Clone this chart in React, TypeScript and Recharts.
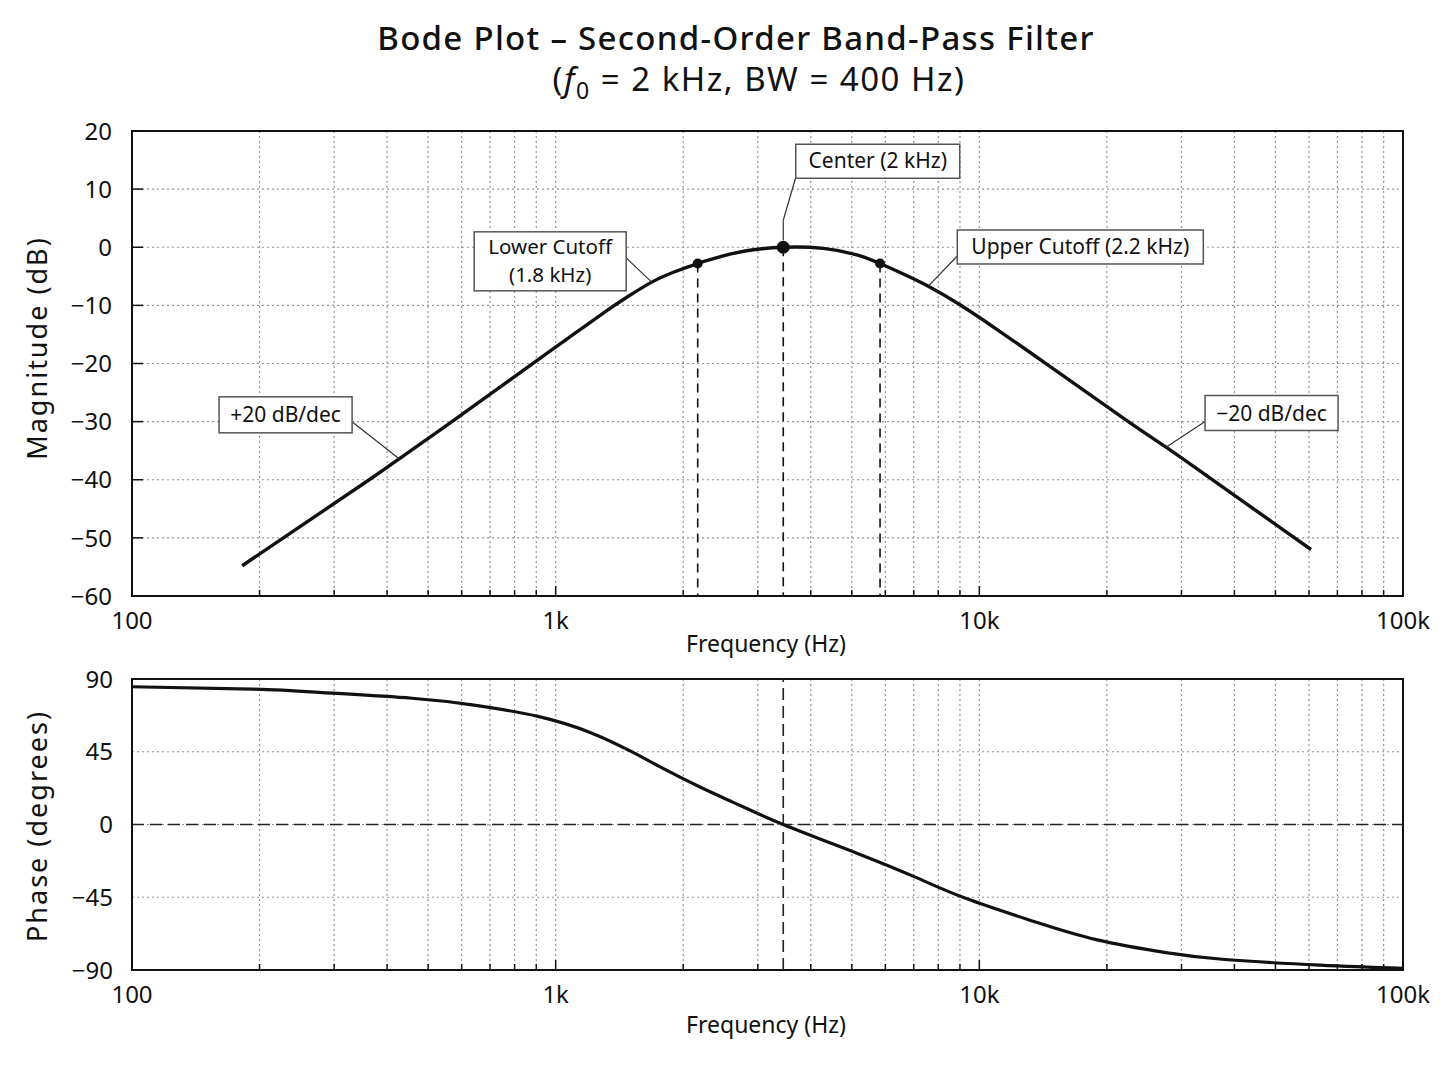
import React from 'react';
import {
  LineChart,
  Line,
  XAxis,
  YAxis,
  CartesianGrid,
  ReferenceArea,
  ReferenceDot,
  ReferenceLine,
} from 'recharts';

const FONT = '"Noto Sans", "DejaVu Sans", sans-serif';
const INK = '#111';

// magnitude response
const magFreq = [182, 363, 427, 569, 918, 1101, 1320, 1472, 1685, 1896, 2164, 2487, 2824, 3445, 4282, 5135, 5830, 6616, 7578, 9004, 11190, 14420, 22080, 27590, 34850, 60660];
const magDb = [-54.8, -40, -36.4, -30, -19.1, -15, -10.9, -8.6, -6, -4.3, -2.8, -1.5, -0.6, 0, -0.2, -1.3, -2.8, -4.6, -6.7, -9.9, -14.5, -20.1, -29.6, -34.4, -39.6, -52];

// phase response
const phaseFreq = [100, 193, 282, 458, 635, 908, 1218, 1523, 1792, 2191, 2650, 3445, 5155, 7038, 9352, 13460, 18860, 27820, 37970, 63720, 100000];
const phaseDeg = [85.2, 83.7, 81.6, 78.1, 74, 66.9, 56.5, 44.6, 34.7, 23.2, 13.2, 0, -17.9, -32.4, -46, -60, -71.2, -79.4, -83.5, -87, -89];

const freqTicks = [
  100, 200, 300, 400, 500, 600, 700, 800, 900,
  1000, 2000, 3000, 4000, 5000, 6000, 7000, 8000, 9000,
  10000, 20000, 30000, 40000, 50000, 60000, 70000, 80000, 90000,
  100000,
];
const decadeLabels: Record<number, string> = { 100: '100', 1000: '1k', 10000: '10k', 100000: '100k' };
const magTicks = [-60, -50, -40, -30, -20, -10, 0, 10, 20];
const phaseTicks = [-90, -45, 0, 45, 90];

const fLow = 2164;
const fCenter = 3445;
const fHigh = 5830;
const cutoffDb = -2.8;

const magData = magFreq.map((f, i) => ({ f, v: magDb[i] }));
const phaseData = phaseFreq.map((f, i) => ({ f, v: phaseDeg[i] }));

// callouts: anchored on the curve, box offsets in px
const callouts = [
  { f: 1685, v: -6, lines: ['Lower Cutoff', '(1.8 kHz)'], box: [-177.5, -50.3, 152, 59], lead: [-25.5, -24.3], tx: -101.5, ty: [-27.8, 0.2], fs: 20.5 },
  { f: 3445, v: 0, lines: ['Center (2 kHz)'], box: [12.5, -103, 164, 34], lead: [12.5, -70], tx: 94.5, ty: [-79], stem: true, fs: 21 },
  { f: 7578, v: -6.7, lines: ['Upper Cutoff (2.2 kHz)'], box: [29, -56.2, 246, 34], lead: [29, -30.2], tx: 152, ty: [-32.2], fs: 21 },
  { f: 427, v: -36.4, lines: ['+20 dB/dec'], box: [-180, -62, 133, 36], lead: [-47, -37], tx: -113.5, ty: [-37], fs: 21 },
  { f: 27590, v: -34.4, lines: ['\u221220 dB/dec'], box: [39, -51.7, 133, 35], lead: [39, -25.7], tx: 105.5, ty: [-26.2], fs: 21 },
];

const fmt = (v: number) => (v < 0 ? `\u2212${-v}` : `${v}`);

function FreqTick({ x, y, payload }: any) {
  const label = decadeLabels[payload.value];
  return (
    <g>
      <line x1={x} x2={x} y1={y} y2={y - (label ? 10 : 6)} stroke={INK} strokeWidth={1.5} />
      {label && (
        <text x={x} y={y + 33} textAnchor="middle" fontSize={24} fill={INK} fontFamily={FONT}>
          {label}
        </text>
      )}
    </g>
  );
}

function MagTick({ x, y, payload }: any) {
  return (
    <g>
      <line x1={x} x2={x + 11} y1={y} y2={y} stroke={INK} strokeWidth={1.5} />
      <text x={x - 20} y={y} dy="0.36em" textAnchor="end" fontSize={24} fill={INK} fontFamily={FONT}>
        {fmt(payload.value)}
      </text>
    </g>
  );
}

function PhaseTick({ x, y, payload }: any) {
  return (
    <text x={x - 19} y={y} dy="0.36em" textAnchor="end" fontSize={24} fill={INK} fontFamily={FONT}>
      {fmt(payload.value)}
    </text>
  );
}

function calloutShape(c: any) {
  return ({ cx, cy }: any) => {
    const [bx, by, bw, bh] = c.box;
    return (
      <g>
        <line x1={cx} y1={c.stem ? cy - 27 : cy} x2={cx + c.lead[0]} y2={cy + c.lead[1]} stroke="#333" strokeWidth={1.2} />
        {c.stem && <line x1={cx} y1={cy - 27} x2={cx} y2={cy - 7} stroke="#333" strokeWidth={1.2} />}
        <rect x={cx + bx} y={cy + by} width={bw} height={bh} fill="#fff" stroke="#555" strokeWidth={1.5} />
        {c.lines.map((t: string, i: number) => (
          <text key={t} x={cx + c.tx} y={cy + c.ty[i]} textAnchor="middle" fontSize={c.fs} fill={INK} fontFamily={FONT}>
            {t}
          </text>
        ))}
      </g>
    );
  };
}

const xAxisProps = {
  dataKey: 'f',
  type: 'number' as const,
  scale: 'log' as const,
  domain: [100, 100000],
  ticks: freqTicks,
  interval: 0,
  tickSize: 0,
  tickMargin: 0,
  axisLine: false,
  tickLine: false,
  allowDataOverflow: true,
  height: 60,
};

export default function App() {
  return (
    <div style={{ position: 'absolute', left: 0, top: 0, width: 1448, height: 1086, background: '#fff', fontFamily: FONT }}>
      <div style={{ position: 'absolute', left: 0, top: 0 }}>
        <LineChart width={1448} height={680} data={magData} margin={{ top: 131, right: 45, bottom: 24, left: 0 }}>
          <CartesianGrid stroke="#949494" strokeDasharray="2 3" strokeWidth={1.2} />
          <XAxis {...xAxisProps} tick={(p: any) => <FreqTick {...p} />} />
          <YAxis
            type="number"
            domain={[-60, 20]}
            ticks={magTicks}
            interval={0}
            width={132}
            tickSize={0}
            tickMargin={0}
            axisLine={false}
            tickLine={false}
            tick={(p: any) => <MagTick {...p} />}
          />
          <ReferenceLine segment={[{ x: fLow, y: cutoffDb }, { x: fLow, y: -60 }]} stroke={INK} strokeWidth={1.6} strokeDasharray="9 6" />
          <ReferenceLine segment={[{ x: fHigh, y: cutoffDb }, { x: fHigh, y: -60 }]} stroke={INK} strokeWidth={1.6} strokeDasharray="9 6" />
          <ReferenceLine segment={[{ x: fCenter, y: 0 }, { x: fCenter, y: -60 }]} stroke={INK} strokeWidth={1.6} strokeDasharray="9 6" />
          <Line dataKey="v" type="natural" stroke={INK} strokeWidth={3.4} dot={false} isAnimationActive={false} />
          <ReferenceArea x1={100} x2={100000} y1={-60} y2={20} fill="none" stroke={INK} strokeWidth={2} />
          {callouts.map((c) => (
            <ReferenceDot key={c.lines[0]} x={c.f} y={c.v} r={1} shape={calloutShape(c)} />
          ))}
          <ReferenceDot x={fLow} y={cutoffDb} r={5} fill={INK} stroke="none" />
          <ReferenceDot x={fHigh} y={cutoffDb} r={5} fill={INK} stroke="none" />
          <ReferenceDot x={fCenter} y={0} r={6.5} fill={INK} stroke="none" />
        </LineChart>
      </div>

      <div style={{ position: 'absolute', left: 0, top: 640 }}>
        <LineChart width={1448} height={446} data={phaseData} margin={{ top: 39, right: 45, bottom: 56, left: 0 }}>
          <CartesianGrid stroke="#949494" strokeDasharray="2 3" strokeWidth={1.2} />
          <XAxis {...xAxisProps} tick={(p: any) => <FreqTick {...p} />} />
          <YAxis
            type="number"
            domain={[-90, 90]}
            ticks={phaseTicks}
            interval={0}
            width={132}
            tickSize={0}
            tickMargin={0}
            axisLine={false}
            tickLine={false}
            tick={(p: any) => <PhaseTick {...p} />}
          />
          <ReferenceLine y={0} stroke="#222" strokeWidth={1.6} strokeDasharray="12 6" />
          <ReferenceLine x={fCenter} stroke="#222" strokeWidth={1.6} strokeDasharray="12 6" />
          <Line dataKey="v" type="natural" stroke={INK} strokeWidth={3.2} dot={false} isAnimationActive={false} />
          <ReferenceArea x1={100} x2={100000} y1={-90} y2={90} fill="none" stroke={INK} strokeWidth={2} />
        </LineChart>
      </div>

      <svg width={1448} height={1086} style={{ position: 'absolute', left: 0, top: 0, pointerEvents: 'none' }}>
        <g fontFamily={FONT} fill={INK}>
          <text x={736} y={50} textAnchor="middle" fontSize={33} fontWeight={500} letterSpacing={1.3}>
            Bode Plot – Second-Order Band-Pass Filter
          </text>
          <text x={759} y={91} textAnchor="middle" fontSize={33} letterSpacing={1.5}>
            (<tspan fontStyle="italic">f</tspan>
            <tspan fontSize={23} dy={8}>0</tspan>
            <tspan dy={-8}> = 2 kHz, BW = 400 Hz)</tspan>
          </text>
          <text transform="translate(37 348) rotate(-90)" textAnchor="middle" dy="0.36em" fontSize={27} letterSpacing={2}>
            Magnitude (dB)
          </text>
          <text transform="translate(37 826) rotate(-90)" textAnchor="middle" dy="0.36em" fontSize={27} letterSpacing={2}>
            Phase (degrees)
          </text>
          <text x={766} y={652} textAnchor="middle" fontSize={23}>
            Frequency (Hz)
          </text>
          <text x={766} y={1033} textAnchor="middle" fontSize={23}>
            Frequency (Hz)
          </text>
        </g>
      </svg>
    </div>
  );
}
